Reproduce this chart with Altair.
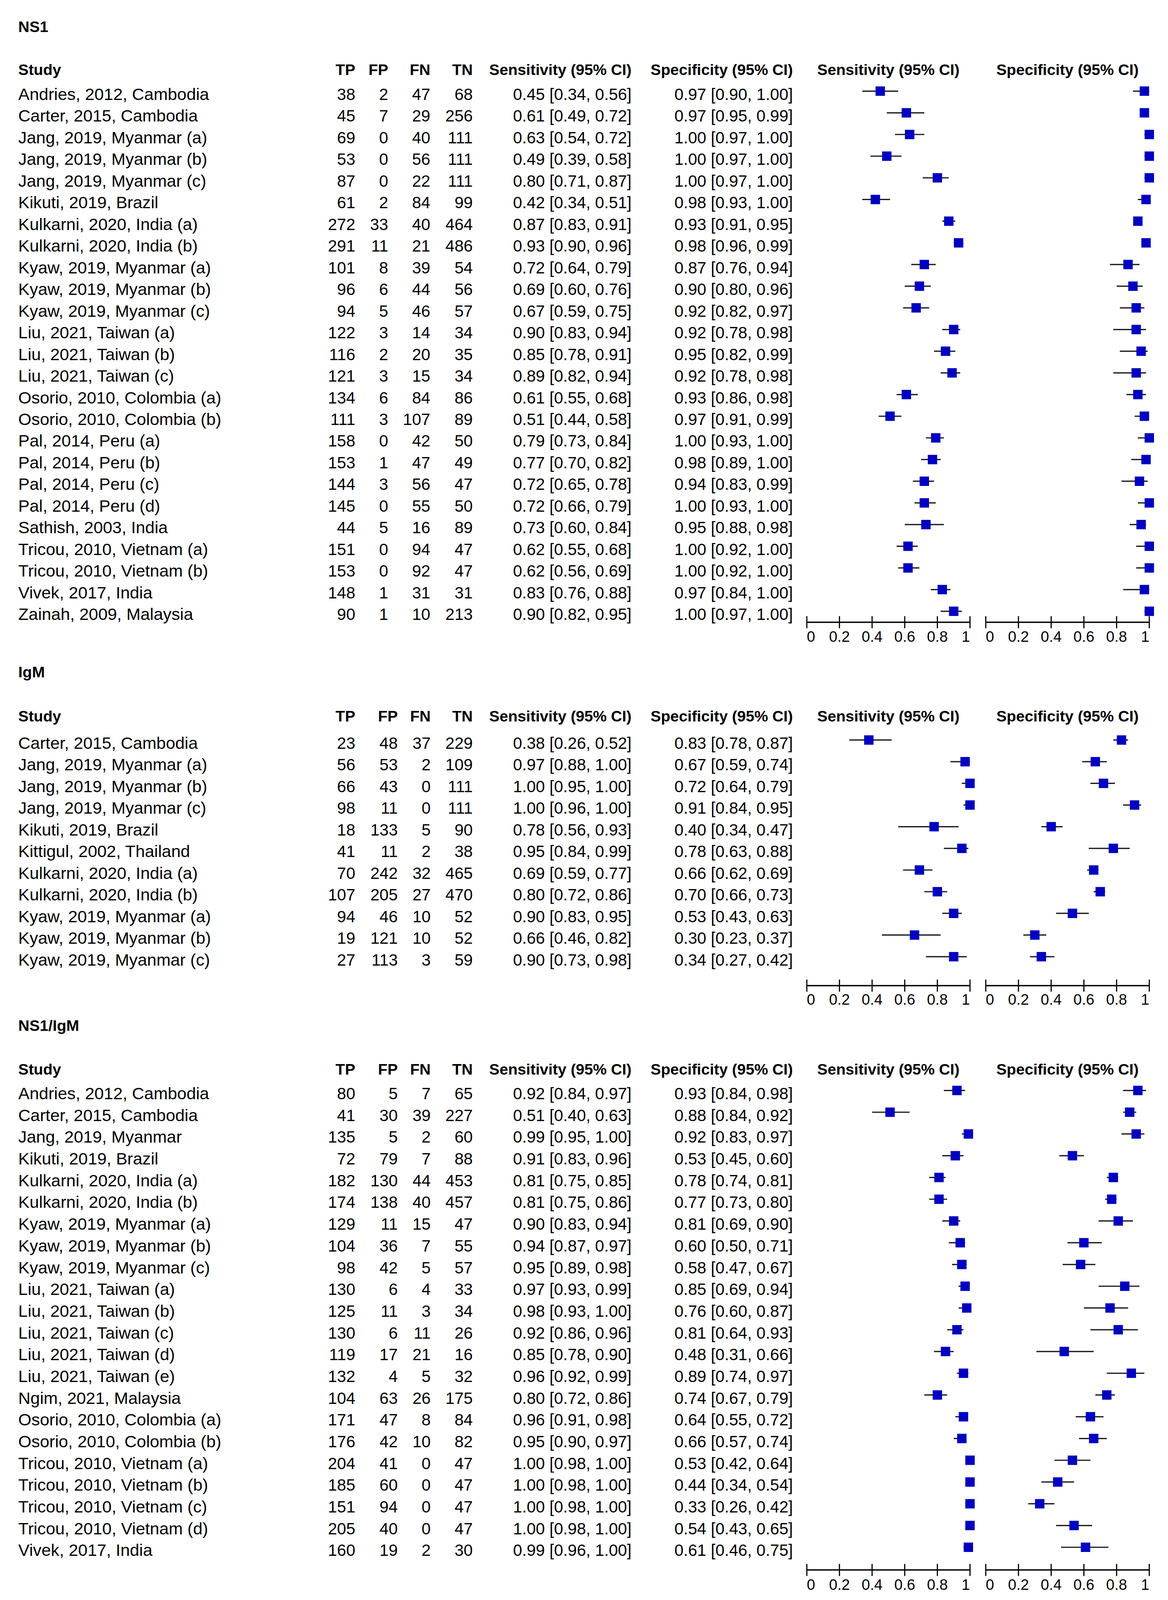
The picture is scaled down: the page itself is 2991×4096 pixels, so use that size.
import altair as alt
import pandas as pd

# ---------------------------------------------------------------- data
header_labels = ["Study", "TP", "FP", "FN", "TN", "Sensitivity (95% CI)", "Specificity (95% CI)"]
tick_values = [0.0, 0.2, 0.4, 0.6, 0.8, 1.0]
tick_labels = ["0", "0.2", "0.4", "0.6", "0.8", "1"]

# NS1
ns1_study = ["Andries, 2012, Cambodia", "Carter, 2015, Cambodia", "Jang, 2019, Myanmar (a)",
             "Jang, 2019, Myanmar (b)", "Jang, 2019, Myanmar (c)", "Kikuti, 2019, Brazil",
             "Kulkarni, 2020, India (a)", "Kulkarni, 2020, India (b)", "Kyaw, 2019, Myanmar (a)",
             "Kyaw, 2019, Myanmar (b)", "Kyaw, 2019, Myanmar (c)", "Liu, 2021, Taiwan (a)",
             "Liu, 2021, Taiwan (b)", "Liu, 2021, Taiwan (c)", "Osorio, 2010, Colombia (a)",
             "Osorio, 2010, Colombia (b)", "Pal, 2014, Peru (a)", "Pal, 2014, Peru (b)",
             "Pal, 2014, Peru (c)", "Pal, 2014, Peru (d)", "Sathish, 2003, India",
             "Tricou, 2010, Vietnam (a)", "Tricou, 2010, Vietnam (b)", "Vivek, 2017, India",
             "Zainah, 2009, Malaysia"]
ns1_tp = [38, 45, 69, 53, 87, 61, 272, 291, 101, 96, 94, 122, 116, 121, 134, 111, 158, 153, 144, 145, 44, 151, 153, 148, 90]
ns1_fp = [2, 7, 0, 0, 0, 2, 33, 11, 8, 6, 5, 3, 2, 3, 6, 3, 0, 1, 3, 0, 5, 0, 0, 1, 1]
ns1_fn = [47, 29, 40, 56, 22, 84, 40, 21, 39, 44, 46, 14, 20, 15, 84, 107, 42, 47, 56, 55, 16, 94, 92, 31, 10]
ns1_tn = [68, 256, 111, 111, 111, 99, 464, 486, 54, 56, 57, 34, 35, 34, 86, 89, 50, 49, 47, 50, 89, 47, 47, 31, 213]
ns1_sens = [0.45, 0.61, 0.63, 0.49, 0.80, 0.42, 0.87, 0.93, 0.72, 0.69, 0.67, 0.90, 0.85, 0.89, 0.61, 0.51, 0.79, 0.77, 0.72, 0.72, 0.73, 0.62, 0.62, 0.83, 0.90]
ns1_sens_lo = [0.34, 0.49, 0.54, 0.39, 0.71, 0.34, 0.83, 0.90, 0.64, 0.60, 0.59, 0.83, 0.78, 0.82, 0.55, 0.44, 0.73, 0.70, 0.65, 0.66, 0.60, 0.55, 0.56, 0.76, 0.82]
ns1_sens_hi = [0.56, 0.72, 0.72, 0.58, 0.87, 0.51, 0.91, 0.96, 0.79, 0.76, 0.75, 0.94, 0.91, 0.94, 0.68, 0.58, 0.84, 0.82, 0.78, 0.79, 0.84, 0.68, 0.69, 0.88, 0.95]
ns1_spec = [0.97, 0.97, 1.00, 1.00, 1.00, 0.98, 0.93, 0.98, 0.87, 0.90, 0.92, 0.92, 0.95, 0.92, 0.93, 0.97, 1.00, 0.98, 0.94, 1.00, 0.95, 1.00, 1.00, 0.97, 1.00]
ns1_spec_lo = [0.90, 0.95, 0.97, 0.97, 0.97, 0.93, 0.91, 0.96, 0.76, 0.80, 0.82, 0.78, 0.82, 0.78, 0.86, 0.91, 0.93, 0.89, 0.83, 0.93, 0.88, 0.92, 0.92, 0.84, 0.97]
ns1_spec_hi = [1.00, 0.99, 1.00, 1.00, 1.00, 1.00, 0.95, 0.99, 0.94, 0.96, 0.97, 0.98, 0.99, 0.98, 0.98, 0.99, 1.00, 1.00, 0.99, 1.00, 0.98, 1.00, 1.00, 1.00, 1.00]

# IgM
igm_study = ["Carter, 2015, Cambodia", "Jang, 2019, Myanmar (a)", "Jang, 2019, Myanmar (b)",
             "Jang, 2019, Myanmar (c)", "Kikuti, 2019, Brazil", "Kittigul, 2002, Thailand",
             "Kulkarni, 2020, India (a)", "Kulkarni, 2020, India (b)", "Kyaw, 2019, Myanmar (a)",
             "Kyaw, 2019, Myanmar (b)", "Kyaw, 2019, Myanmar (c)"]
igm_tp = [23, 56, 66, 98, 18, 41, 70, 107, 94, 19, 27]
igm_fp = [48, 53, 43, 11, 133, 11, 242, 205, 46, 121, 113]
igm_fn = [37, 2, 0, 0, 5, 2, 32, 27, 10, 10, 3]
igm_tn = [229, 109, 111, 111, 90, 38, 465, 470, 52, 52, 59]
igm_sens = [0.38, 0.97, 1.00, 1.00, 0.78, 0.95, 0.69, 0.80, 0.90, 0.66, 0.90]
igm_sens_lo = [0.26, 0.88, 0.95, 0.96, 0.56, 0.84, 0.59, 0.72, 0.83, 0.46, 0.73]
igm_sens_hi = [0.52, 1.00, 1.00, 1.00, 0.93, 0.99, 0.77, 0.86, 0.95, 0.82, 0.98]
igm_spec = [0.83, 0.67, 0.72, 0.91, 0.40, 0.78, 0.66, 0.70, 0.53, 0.30, 0.34]
igm_spec_lo = [0.78, 0.59, 0.64, 0.84, 0.34, 0.63, 0.62, 0.66, 0.43, 0.23, 0.27]
igm_spec_hi = [0.87, 0.74, 0.79, 0.95, 0.47, 0.88, 0.69, 0.73, 0.63, 0.37, 0.42]

# NS1/IgM
cmb_study = ["Andries, 2012, Cambodia", "Carter, 2015, Cambodia", "Jang, 2019, Myanmar",
             "Kikuti, 2019, Brazil", "Kulkarni, 2020, India (a)", "Kulkarni, 2020, India (b)",
             "Kyaw, 2019, Myanmar (a)", "Kyaw, 2019, Myanmar (b)", "Kyaw, 2019, Myanmar (c)",
             "Liu, 2021, Taiwan (a)", "Liu, 2021, Taiwan (b)", "Liu, 2021, Taiwan (c)",
             "Liu, 2021, Taiwan (d)", "Liu, 2021, Taiwan (e)", "Ngim, 2021, Malaysia",
             "Osorio, 2010, Colombia (a)", "Osorio, 2010, Colombia (b)", "Tricou, 2010, Vietnam (a)",
             "Tricou, 2010, Vietnam (b)", "Tricou, 2010, Vietnam (c)", "Tricou, 2010, Vietnam (d)",
             "Vivek, 2017, India"]
cmb_tp = [80, 41, 135, 72, 182, 174, 129, 104, 98, 130, 125, 130, 119, 132, 104, 171, 176, 204, 185, 151, 205, 160]
cmb_fp = [5, 30, 5, 79, 130, 138, 11, 36, 42, 6, 11, 6, 17, 4, 63, 47, 42, 41, 60, 94, 40, 19]
cmb_fn = [7, 39, 2, 7, 44, 40, 15, 7, 5, 4, 3, 11, 21, 5, 26, 8, 10, 0, 0, 0, 0, 2]
cmb_tn = [65, 227, 60, 88, 453, 457, 47, 55, 57, 33, 34, 26, 16, 32, 175, 84, 82, 47, 47, 47, 47, 30]
cmb_sens = [0.92, 0.51, 0.99, 0.91, 0.81, 0.81, 0.90, 0.94, 0.95, 0.97, 0.98, 0.92, 0.85, 0.96, 0.80, 0.96, 0.95, 1.00, 1.00, 1.00, 1.00, 0.99]
cmb_sens_lo = [0.84, 0.40, 0.95, 0.83, 0.75, 0.75, 0.83, 0.87, 0.89, 0.93, 0.93, 0.86, 0.78, 0.92, 0.72, 0.91, 0.90, 0.98, 0.98, 0.98, 0.98, 0.96]
cmb_sens_hi = [0.97, 0.63, 1.00, 0.96, 0.85, 0.86, 0.94, 0.97, 0.98, 0.99, 1.00, 0.96, 0.90, 0.99, 0.86, 0.98, 0.97, 1.00, 1.00, 1.00, 1.00, 1.00]
cmb_spec = [0.93, 0.88, 0.92, 0.53, 0.78, 0.77, 0.81, 0.60, 0.58, 0.85, 0.76, 0.81, 0.48, 0.89, 0.74, 0.64, 0.66, 0.53, 0.44, 0.33, 0.54, 0.61]
cmb_spec_lo = [0.84, 0.84, 0.83, 0.45, 0.74, 0.73, 0.69, 0.50, 0.47, 0.69, 0.60, 0.64, 0.31, 0.74, 0.67, 0.55, 0.57, 0.42, 0.34, 0.26, 0.43, 0.46]
cmb_spec_hi = [0.98, 0.92, 0.97, 0.60, 0.81, 0.80, 0.90, 0.71, 0.67, 0.94, 0.87, 0.93, 0.66, 0.97, 0.79, 0.72, 0.74, 0.64, 0.54, 0.42, 0.65, 0.75]

# ---------------------------------------------------------------- style / layout
S = 0.937          # reference -> window scale
M = 8.0            # page margin
W = 2960
FONT = "Liberation Sans, Arial, sans-serif"
INK = "#000000"
BLUE = "#0000C0"
F_BODY = 42
F_STUDY = 43.3
F_BOLD = 39.5
F_AX = 38.5


def gx(full):
    return full * S - M


cols_a = dict(tp=971, fp=1061, fn=1176, tn=1292)
cols_b = dict(tp=971, fp=1087, fn=1177, tn=1292)

L_ns1 = dict(top=0, bot=1790, title=87, header=205, row1=273, step=59.21, axis=1700, label=1753, cols=cols_a)
L_igm = dict(top=1790, bot=2765, title=1850, header=1970, row1=2045, step=59.2, axis=2692, label=2744, cols=cols_b)
L_cmb = dict(top=2765, bot=4360, title=2815, header=2935, row1=3002, step=59.43, axis=4288, label=4342, cols=cols_b)

X_STUDY = 50
X_SENS_TXT = 1726
X_SPEC_TXT = 2167
SENS_AX = (2205, 2651)
SPEC_AX = (2694, 3141)


def fmt(v, lo, hi):
    return f"{v:.2f} [{lo:.2f}, {hi:.2f}]"


def make_section(title, study, tp, fp, fn, tn, se, se_lo, se_hi, sp, sp_lo, sp_hi, L):
    top_page = max(L["top"] * S, M)
    bot_page = L["bot"] * S
    H = bot_page - top_page
    step = L["step"] * S
    row1 = L["row1"] * S

    def r(full_y):
        return 1 + (full_y * S - row1) / step

    d0 = 1 - (row1 - top_page) / step
    d1 = d0 + H / step
    ysc = alt.Scale(domain=[d0, d1], reverse=True, nice=False, zero=False)
    Y = alt.Y("yv:Q", scale=ysc, axis=None)

    xs_se = alt.Scale(domain=[0, 1], range=[gx(SENS_AX[0]), gx(SENS_AX[1])], nice=False, zero=False)
    xs_sp = alt.Scale(domain=[0, 1], range=[gx(SPEC_AX[0]), gx(SPEC_AX[1])], nice=False, zero=False)

    n = len(study)
    body = pd.DataFrame({
        "yv": list(range(1, n + 1)),
        "study": study,
        "tp": [str(v) for v in tp], "fp": [str(v) for v in fp],
        "fn": [str(v) for v in fn], "tn": [str(v) for v in tn],
        "sens": [fmt(a, b, c) for a, b, c in zip(se, se_lo, se_hi)],
        "spec": [fmt(a, b, c) for a, b, c in zip(sp, sp_lo, sp_hi)],
        "se": se, "se_lo": se_lo, "se_hi": se_hi,
        "sp": sp, "sp_lo": sp_lo, "sp_hi": sp_hi,
    })
    hr = r(L["header"])
    head = pd.DataFrame({"yv": [hr], **{f"h{i}": [lab] for i, lab in enumerate(header_labels)}, "c": [0.5]})
    ttl = pd.DataFrame({"yv": [r(L["title"])], "label": [title]})

    def txt(df, field, x, align, bold=False, size=None):
        return alt.Chart(df).mark_text(
            align=align, baseline="alphabetic", font=FONT,
            fontSize=size if size else (F_BOLD if bold else F_BODY),
            fontWeight="bold" if bold else "normal", color=INK,
        ).encode(x=alt.value(x), y=Y, text=alt.Text(f"{field}:N"))

    c = L["cols"]
    layers = [
        txt(ttl, "label", gx(X_STUDY), "left", bold=True),
        txt(head, "h0", gx(X_STUDY), "left", bold=True),
        txt(head, "h1", gx(c["tp"]), "right", bold=True),
        txt(head, "h2", gx(c["fp"]), "right", bold=True),
        txt(head, "h3", gx(c["fn"]), "right", bold=True),
        txt(head, "h4", gx(c["tn"]), "right", bold=True),
        txt(head, "h5", gx(X_SENS_TXT), "right", bold=True),
        txt(head, "h6", gx(X_SPEC_TXT), "right", bold=True),
        txt(body, "study", gx(X_STUDY), "left", size=F_STUDY),
        txt(body, "tp", gx(c["tp"]), "right"),
        txt(body, "fp", gx(c["fp"]), "right"),
        txt(body, "fn", gx(c["fn"]), "right"),
        txt(body, "tn", gx(c["tn"]), "right"),
        txt(body, "sens", gx(X_SENS_TXT), "right"),
        txt(body, "spec", gx(X_SPEC_TXT), "right"),
    ]

    yoff = -24 * S
    r_axis = r(L["axis"])
    r_lab = r(L["label"])
    tl = 16.5 * S / step

    for xs, est, lo, hi, hfield in [(xs_se, "se", "se_lo", "se_hi", "h5"), (xs_sp, "sp", "sp_lo", "sp_hi", "h6")]:
        layers.append(alt.Chart(head).mark_text(
            align="center", baseline="alphabetic", font=FONT, fontSize=F_BOLD,
            fontWeight="bold", color=INK,
        ).encode(x=alt.X("c:Q", scale=xs, axis=None), y=Y, text=alt.Text(f"{hfield}:N")))
        layers.append(alt.Chart(body).mark_rule(color="#1a1a1a", strokeWidth=3.2, yOffset=yoff).encode(
            x=alt.X(f"{lo}:Q", scale=xs, axis=None), x2=f"{hi}:Q", y=Y))
        layers.append(alt.Chart(body).mark_square(color=BLUE, size=580, opacity=1, filled=True,
                                                  strokeWidth=0, yOffset=yoff).encode(
            x=alt.X(f"{est}:Q", scale=xs, axis=None), y=Y))
        line_df = pd.DataFrame({"a": [0.0], "b": [1.0], "yv": [r_axis]})
        layers.append(alt.Chart(line_df).mark_rule(color=INK, strokeWidth=3.5).encode(
            x=alt.X("a:Q", scale=xs, axis=None), x2="b:Q", y=Y))
        tick_df = pd.DataFrame({"t": tick_values, "y1": [r_axis - tl] * len(tick_values),
                                "y2": [r_axis + tl] * len(tick_values)})
        layers.append(alt.Chart(tick_df).mark_rule(color=INK, strokeWidth=3).encode(
            x=alt.X("t:Q", scale=xs, axis=None), y=alt.Y("y1:Q", scale=ysc, axis=None), y2="y2:Q"))
        lab_df = pd.DataFrame({"t": tick_values, "label": tick_labels, "yv": [r_lab] * len(tick_values)})
        parts = [(lab_df.iloc[[0]], "left"), (lab_df.iloc[1:-1], "center"), (lab_df.iloc[[-1]], "right")]
        for dfp, al in parts:
            layers.append(alt.Chart(dfp).mark_text(
                align=al, baseline="alphabetic", font=FONT, fontSize=F_AX, color=INK,
            ).encode(x=alt.X("t:Q", scale=xs, axis=None), y=Y, text=alt.Text("label:N")))

    return alt.layer(*layers).resolve_scale(x="independent").properties(width=W, height=H)


secA = make_section("NS1", ns1_study, ns1_tp, ns1_fp, ns1_fn, ns1_tn, ns1_sens, ns1_sens_lo, ns1_sens_hi,
                    ns1_spec, ns1_spec_lo, ns1_spec_hi, L_ns1)
secB = make_section("IgM", igm_study, igm_tp, igm_fp, igm_fn, igm_tn, igm_sens, igm_sens_lo, igm_sens_hi,
                    igm_spec, igm_spec_lo, igm_spec_hi, L_igm)
secC = make_section("NS1/IgM", cmb_study, cmb_tp, cmb_fp, cmb_fn, cmb_tn, cmb_sens, cmb_sens_lo, cmb_sens_hi,
                    cmb_spec, cmb_spec_lo, cmb_spec_hi, L_cmb)

chart = alt.vconcat(secA, secB, secC, spacing=0, bounds="flush").properties(
    padding=0, background="white"
).configure_view(strokeWidth=0)

chart.save("out.html", embed_options={"renderer": "svg", "actions": False})
